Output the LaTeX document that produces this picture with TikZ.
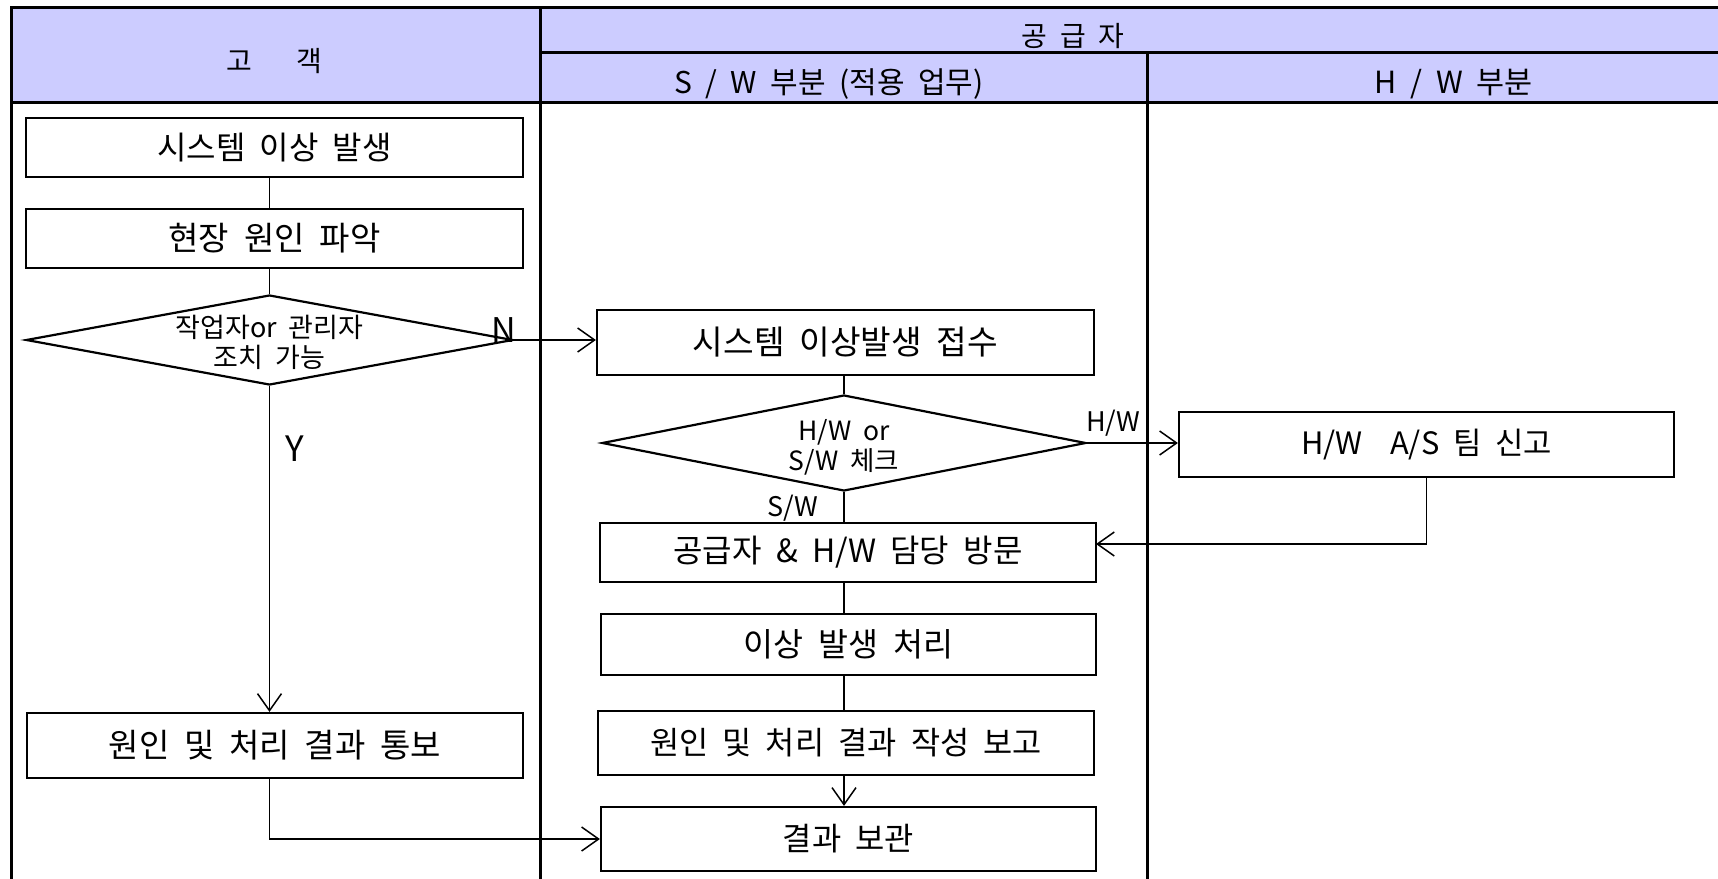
\documentclass[tikz,border=0pt]{standalone}
\usepackage{fontspec}
\setmainfont{Noto Sans CJK KR}[WordSpace=2]
\usetikzlibrary{arrows.meta,shapes.geometric}
\definecolor{hdr}{RGB}{204,204,255}
\newcommand\fsz[1]{\fontsize{#1}{#1}\selectfont}
\begin{document}
\begin{tikzpicture}[x=1pt,y=-1pt,
  procbox/.style={draw=black, line width=2.2pt, inner sep=0pt, anchor=center},
  decbox/.style={draw=black, line width=2.2pt, diamond, inner sep=0pt, anchor=center},
  frameline/.style={line width=3pt, line cap=rect},
  conn/.style={line width=1.5pt},
  arr/.style={conn, -{Straight Barb[length=17pt,width=24pt]}},
  lbl/.style={inner sep=0pt, anchor=center}
]
\useasboundingbox (0,0) rectangle (1718,878);
\fill[white] (0,0) rectangle (1718,878);

% header band
\fill[hdr] (11,7) rectangle (1718,102);
\draw[frameline] (11,7) -- (1718,7);
\draw[frameline] (540,52) -- (1718,52);
\draw[frameline] (11,102) -- (1718,102);
\draw[frameline] (11,7) -- (11,880);
\draw[frameline] (540,7) -- (540,880);
\draw[frameline] (1147,52) -- (1147,880);

\node[lbl, font=\fsz{28}] (hcust) at (274.5,61) {고\hspace{44pt}객};
\node[lbl, font=\fsz{28}] (hsup) at (1073,36) {공 급 자};
\node[lbl, font=\fsz{30}] (hsw) at (829,84) {S / W 부분 (적용 업무)};
\node[lbl, font=\fsz{30.5}] (hhw) at (1454,84) {H / W 부분};

% customer column
\node[procbox, minimum width=497pt, minimum height=59pt, font=\fsz{32}] (b1) at (274.5,147.5) {시스템 이상 발생};
\node[procbox, minimum width=497pt, minimum height=59pt, font=\fsz{33}] (b2) at (274.5,238.5) {현장 원인 파악};
\node[decbox, minimum width=487pt, minimum height=90pt] (d1) at (269.5,340) {};
\node[lbl, font=\fontsize{27}{30}\selectfont, align=center] (d1t) at (269.5,342) {작업자or 관리자\\조치 가능};
\node[procbox, minimum width=496pt, minimum height=65pt, font=\fsz{33}] (b3) at (275,745.5) {원인 및 처리 결과 통보};

% supplier S/W column
\node[procbox, minimum width=497pt, minimum height=65pt, font=\fsz{33.3}] (r1) at (845.5,342.5) {시스템 이상발생 접수};
\node[decbox, minimum width=484pt, minimum height=96pt] (d2) at (844,443) {};
\node[lbl, font=\fontsize{26.5}{30}\selectfont, align=center] (d2t) at (844,447) {H/W or\\S/W 체크};
\node[procbox, minimum width=496pt, minimum height=59pt, font=\fsz{32}] (r2) at (848,552.5) {공급자 \& H/W 담당 방문};
\node[procbox, minimum width=495pt, minimum height=61pt, font=\fsz{32.6}] (r3) at (848.5,644.5) {이상 발생 처리};
\node[procbox, minimum width=496pt, minimum height=64pt, font=\fsz{31.7}] (r4) at (846,743) {원인 및 처리 결과 작성 보고};
\node[procbox, minimum width=495pt, minimum height=64pt, font=\fsz{31.8}] (r5) at (848.5,839) {결과 보관};

% H/W column
\node[procbox, minimum width=495pt, minimum height=65pt, font=\fsz{30.8}] (h1) at (1426.5,444.5) {H/W\ \ A/S 팀 신고};

% connectors
\draw[conn] (d1.north |- b1.south) -- (d1.north |- b2.north);
\draw[conn] (d1.north |- b2.south) -- (d1.north);
\draw[arr] (d1.south) -- (d1.south |- b3.north);
\draw[arr] (d1.east) -- (r1.west |- d1.east);
\draw[arr] (d1.south |- b3.south) |- (r5.west);

\draw[conn] (d2.north |- r1.south) -- (d2.north);
\draw[arr] (d2.east) -- (h1.west |- d2.east);
\draw[conn] (d2.south) -- (d2.south |- r2.north);
\coordinate (hwend) at (1096,544);
\draw[arr] (h1.south) |- (hwend);
\draw[conn] (d2.south |- r2.south) -- (d2.south |- r3.north);
\draw[conn] (d2.south |- r3.south) -- (d2.south |- r4.north);
\draw[arr] (d2.south |- r4.south) -- (d2.south |- r5.north);

% labels
\node[lbl, font=\fsz{35}] (lY) at (295,449) {Y};
\node[lbl, font=\fsz{34}] (lN) at (504,330) {N};
\node[lbl, font=\fsz{27}] (lHW) at (1113,423) {H/W};
\node[lbl, font=\fsz{27}] (lSW) at (793,508) {S/W};
\end{tikzpicture}
\end{document}
